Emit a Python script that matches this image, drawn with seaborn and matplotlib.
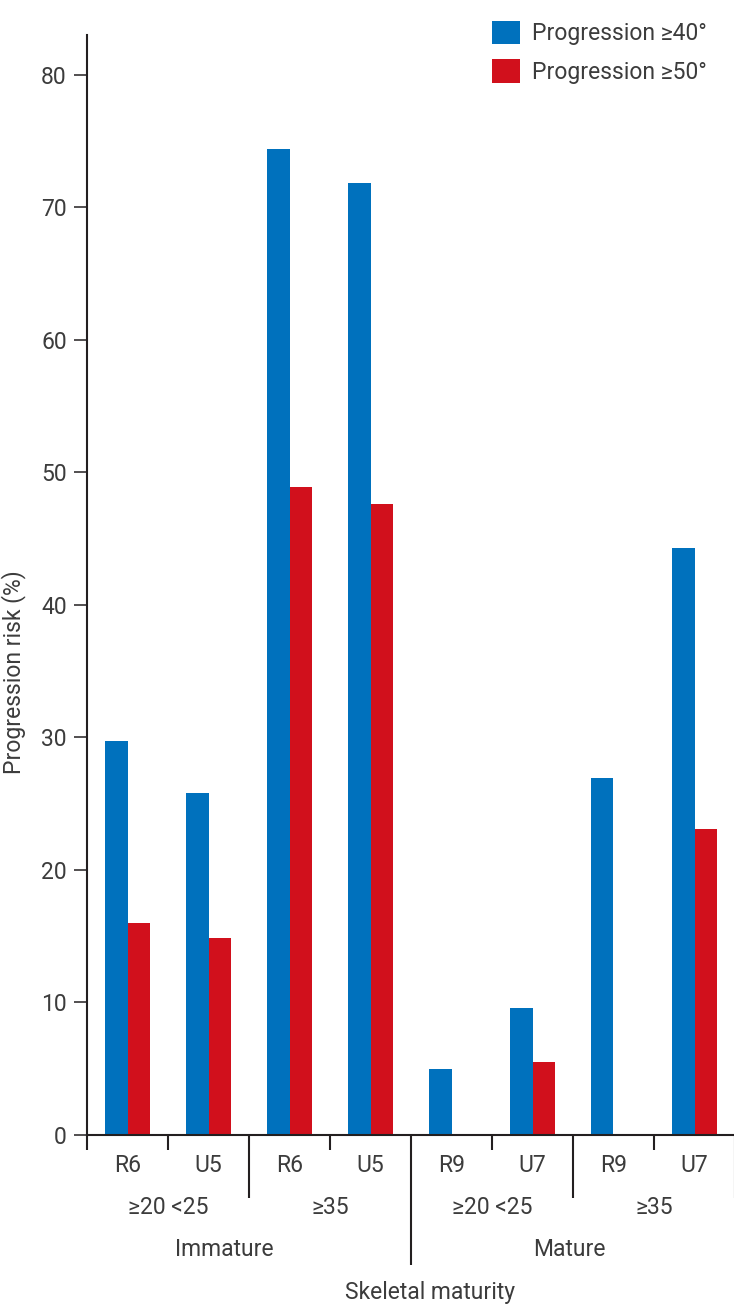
import matplotlib
matplotlib.use("Agg")
import matplotlib.pyplot as plt
from matplotlib import font_manager as fm
import seaborn as sns
import pandas as pd

# ---- data ----
maturity = ["Immature", "Immature", "Immature", "Immature", "Mature", "Mature", "Mature", "Mature"]
cobb = ["≥20 <25", "≥20 <25", "≥35", "≥35", "≥20 <25", "≥20 <25", "≥35", "≥35"]
stage = ["R6", "U5", "R6", "U5", "R9", "U7", "R9", "U7"]
prog40 = [29.7, 25.8, 74.4, 71.8, 5.0, 9.6, 26.9, 44.3]
prog50 = [16.0, 14.9, 48.9, 47.6, 0.0, 5.5, 0.0, 23.1]
series = ["Progression ≥40°", "Progression ≥50°"]
colors = ["#0071BD", "#D1101C"]
cobb_groups = ["≥20 <25", "≥35", "≥20 <25", "≥35"]
maturity_groups = ["Immature", "Mature"]
yticks = [0, 10, 20, 30, 40, 50, 60, 70, 80]

sns.set_theme(style="white")
fam = "DejaVu Sans"
for cand in ["Liberation Sans Narrow", "Roboto", "Liberation Sans"]:
    try:
        fm.findfont(fm.FontProperties(family=cand), fallback_to_default=False)
        fam = cand
        break
    except Exception:
        pass
plt.rcParams["font.family"] = [fam, "DejaVu Sans"]
TXT = "#3c3c3c"
LINE = "#231f20"
FS = 16.5

keys = [f"{m}|{c}|{s}|{i}" for i, (m, c, s) in enumerate(zip(maturity, cobb, stage))]
df = pd.DataFrame({
    "key": keys * 2,
    "value": prog40 + prog50,
    "series": [series[0]] * len(keys) + [series[1]] * len(keys),
})

W, H = 734, 1310
fig = plt.figure(figsize=(W / 100, H / 100), dpi=100)
ax_l, ax_r, ax_t, ax_b = 87, 735, 35, 1135
ax = fig.add_axes([ax_l / W, (H - ax_b) / H, (ax_r - ax_l) / W, (ax_b - ax_t) / H])

sns.barplot(data=df, x="key", y="value", hue="series", order=keys,
            hue_order=series, palette=colors, width=0.55, gap=0,
            linewidth=0, saturation=1, ax=ax, errorbar=None)

ax.set_xlim(-0.5, len(keys) - 0.5)
ax.set_ylim(0, 83)
ax.set_yticks(yticks)
ax.set_yticklabels([str(v) for v in yticks], fontsize=FS, color=TXT)
ax.tick_params(axis="y", left=True, length=9.5, width=1.1, color=LINE, pad=5)
ax.set_xticks(range(len(keys)))
ax.set_xticklabels(stage, fontsize=FS, color=TXT)
ax.tick_params(axis="x", bottom=False, length=0, pad=14)
ax.set_xlabel("")
ax.set_ylabel("")

for s in ["top", "right"]:
    ax.spines[s].set_visible(False)
for s in ["left", "bottom"]:
    ax.spines[s].set_color(LINE)
    ax.spines[s].set_linewidth(1.5)

ax_h = ax_b - ax_t
trans = ax.get_xaxis_transform()
# separator lines under axis
short = 15 / ax_h
mid = 63 / ax_h
long_ = 130 / ax_h
sep = {-0.5: short, 0.5: short, 1.5: mid, 2.5: short, 3.5: long_,
       4.5: short, 5.5: mid, 6.5: short, 7.5: mid}
for xp, ln in sep.items():
    ax.plot([xp, xp], [0, -ln], transform=trans, color=LINE, lw=1.5,
            clip_on=False, solid_capstyle="butt")

# level-2 labels
for i, lab in enumerate(cobb_groups):
    ax.text(2 * i + 0.5, -(1207 - ax_b) / ax_h, lab, transform=trans,
            ha="center", va="center", fontsize=FS, color=TXT)
# level-3 labels
for xp, lab in zip([1.2, 5.45], maturity_groups):
    ax.text(xp, -(1249 - ax_b) / ax_h, lab, transform=trans,
            ha="center", va="center", fontsize=FS, color=TXT)

fig.text(430 / W, 1 - 1292 / H, "Skeletal maturity", ha="center", va="center",
         fontsize=FS, color=TXT)
fig.text(14 / W, 1 - 672 / H, "Progression risk (%)", ha="center", va="center",
         rotation=90, fontsize=FS, color=TXT)

handles, labels = ax.get_legend_handles_labels()
leg = ax.legend(handles, labels, loc="upper left",
                bbox_to_anchor=(492 / W, 1 - 21 / H), bbox_transform=fig.transFigure,
                frameon=False, fontsize=FS, handlelength=1.2, handleheight=1.2,
                handletextpad=0.55, labelspacing=0.6, borderpad=0, borderaxespad=0)
for t in leg.get_texts():
    t.set_color(TXT)

fig.savefig("out.png", dpi=100)
